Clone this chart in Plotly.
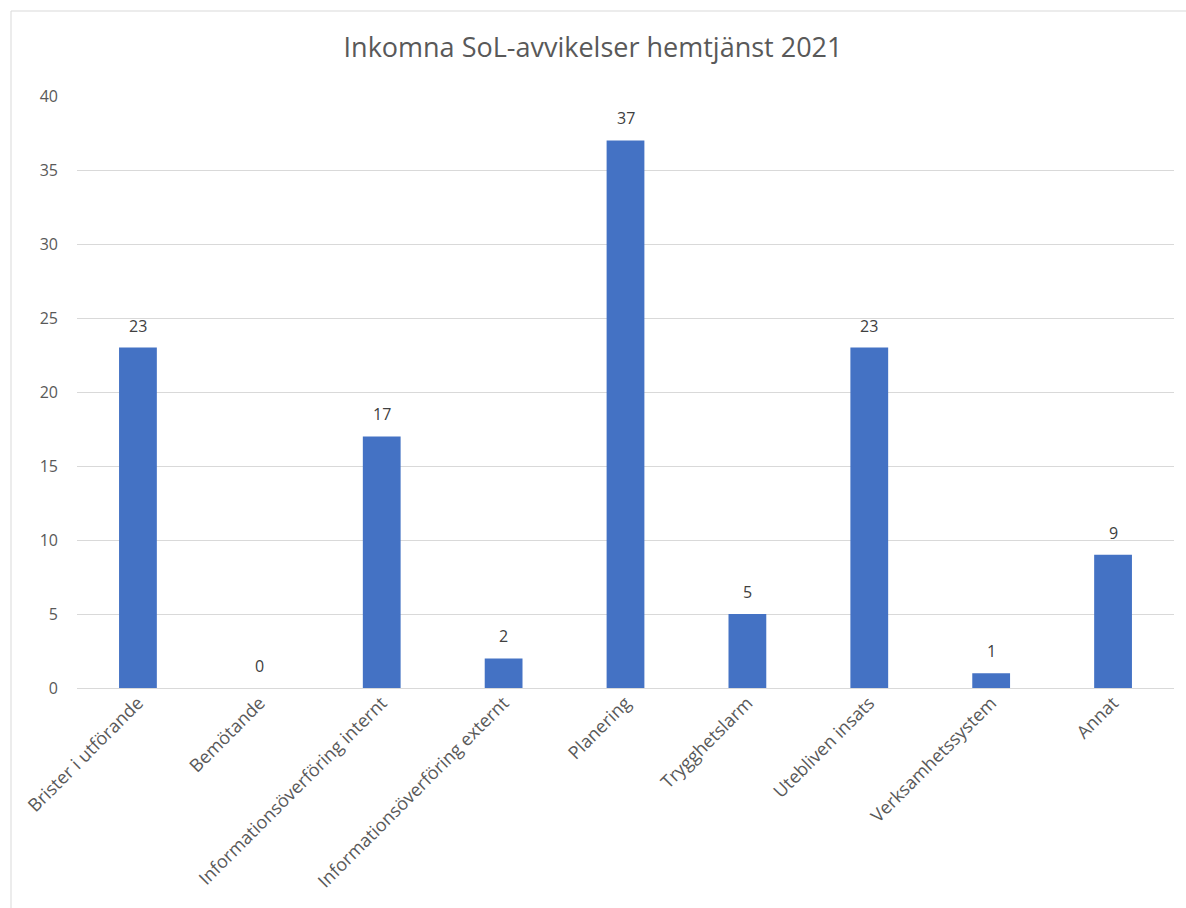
import plotly.graph_objects as go

categories = [
    "Brister i utförande",
    "Bemötande",
    "Informationsöverföring internt",
    "Informationsöverföring externt",
    "Planering",
    "Trygghetslarm",
    "Utebliven insats",
    "Verksamhetssystem",
    "Annat",
]
counts = [23, 0, 17, 2, 37, 5, 23, 1, 9]
y_ticks = [0, 5, 10, 15, 20, 25, 30, 35, 40]

FONT = "Open Sans, Noto Sans, sans-serif"
GRAY = "#595959"
GRID = "#D9D9D9"

fig = go.Figure(
    go.Bar(
        x=categories,
        y=counts,
        marker=dict(color="#4472C4", line=dict(width=0)),
        hoverinfo="x+y",
    )
)

# value labels above each bar
value_labels = [
    dict(
        x=cat,
        y=val,
        xref="x",
        yref="y",
        text=str(val),
        showarrow=False,
        yanchor="bottom",
        yshift=9,
        font=dict(family=FONT, size=16, color="#404040"),
    )
    for cat, val in zip(categories, counts)
]

fig.update_layout(
    width=1186,
    height=908,
    margin=dict(l=77, r=12, t=96, b=220),
    paper_bgcolor="white",
    plot_bgcolor="white",
    bargap=0.69,
    showlegend=False,
    annotations=value_labels,
    title=dict(
        text="Inkomna SoL-avvikelser hemtjänst 2021",
        x=0.5,
        xanchor="center",
        y=1 - 48 / 908,
        yanchor="middle",
        font=dict(family=FONT, size=27, color=GRAY),
    ),
    xaxis=dict(
        tickangle=-45,
        tickfont=dict(family=FONT, size=18, color=GRAY),
        showgrid=False,
        showline=False,
        ticks="",
        zeroline=False,
    ),
    yaxis=dict(
        range=[0, 40],
        tickvals=y_ticks,
        tickfont=dict(family=FONT, size=16, color=GRAY),
        showgrid=True,
        gridcolor=GRID,
        gridwidth=1,
        zeroline=True,
        zerolinecolor=GRID,
        zerolinewidth=1,
        showline=False,
        ticks="",
        ticklabelstandoff=18,
    ),
    shapes=[
        dict(
            type="rect",
            xref="paper",
            yref="paper",
            x0=(11 - 77) / 1097,
            x1=1.05,
            y0=-0.5,
            y1=(688 - 11) / 592,
            line=dict(color=GRID, width=1),
            fillcolor="rgba(0,0,0,0)",
            layer="below",
        )
    ],
)

fig.write_html("out.html")
